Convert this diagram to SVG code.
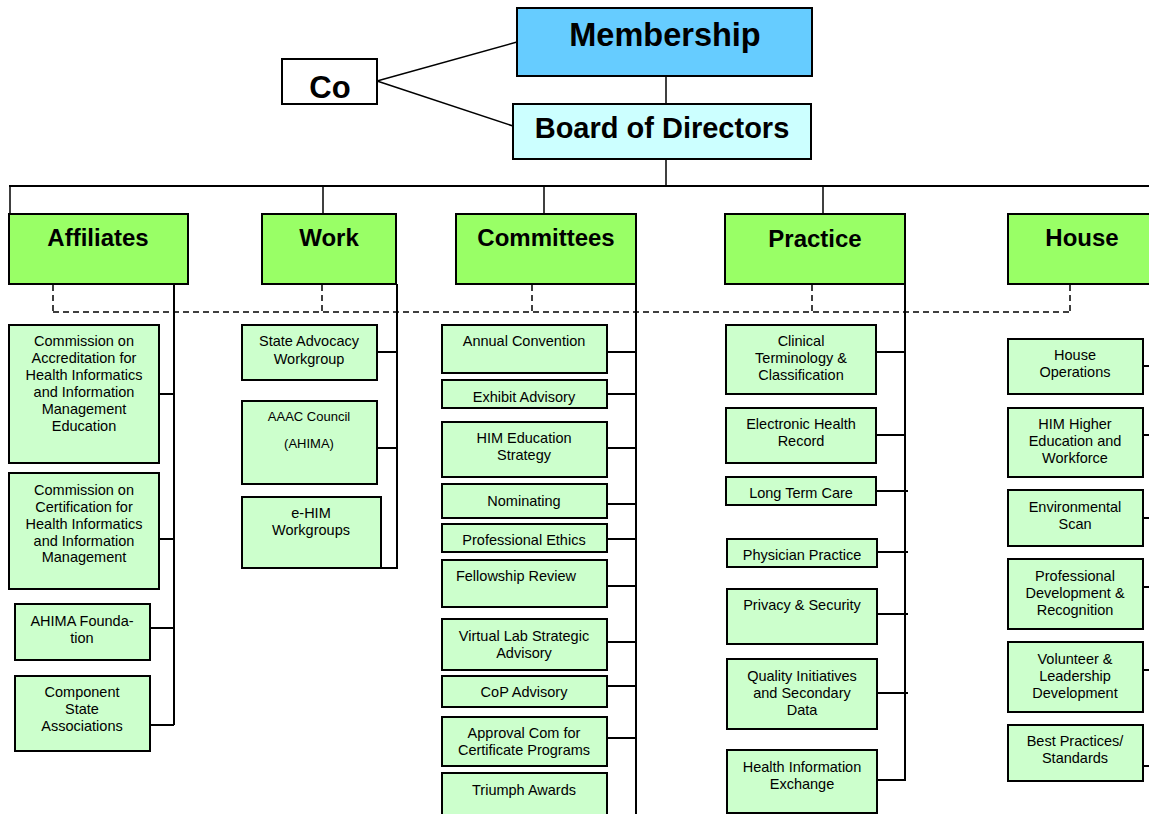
<svg xmlns="http://www.w3.org/2000/svg" width="1149" height="814" viewBox="0 0 1149 814">
<style>
text{font-family:"Liberation Sans",Arial,sans-serif;fill:#000;text-anchor:middle}
.t{font-size:14.5px}
.h{font-size:24px;font-weight:bold}
.b{stroke:#000;stroke-width:2}
.l2{fill:#99ff66}
.c{fill:#ccffcc}
.ln{stroke:#000;stroke-width:2;fill:none}
.thin{stroke:#000;stroke-width:1.5;fill:none}
.d{stroke:#000;stroke-width:1.5;fill:none;stroke-dasharray:6 4}
</style>
<rect width="1149" height="814" fill="#fff"/>
<g id="connectors">
<line class="thin" x1="377" y1="81" x2="517" y2="42"/>
<line class="thin" x1="377" y1="81" x2="513" y2="126"/>
<line class="thin" x1="666" y1="76" x2="666" y2="104"/>
<line class="thin" x1="666" y1="159" x2="666" y2="186"/>
<line class="ln" x1="9" y1="186" x2="1149" y2="186"/>
<line class="thin" x1="10" y1="186" x2="10" y2="214"/>
<line class="thin" x1="323" y1="186" x2="323" y2="214"/>
<line class="thin" x1="544" y1="186" x2="544" y2="214"/>
<line class="thin" x1="823" y1="186" x2="823" y2="214"/>
<path class="d" d="M53 285V312M322 285V312M532 285V312M812 285V312M1070 285V312M53 312H1070"/>
<path class="ln" d="M174 284V725M159 394H174M159 539H174M150 628H174M150 725H174"/>
<path class="ln" d="M397 284V568H381M377 352H397M377 448H397"/>
<path class="ln" d="M636 284V814M607 352H636M607 394H636M607 448H636M607 504H636M607 539H636M607 586H636M607 642H636M607 686H636M607 738H636"/>
<path class="ln" d="M905 284V780H877M876 352H905M876 435H905M876 491H908M877 552H908M877 614H908M877 693H908"/>
<path class="ln" d="M1143 366H1149M1143 435H1149M1143 518H1149M1143 587H1149M1143 670H1149M1143 766H1149"/>
</g>
<g id="membership"><rect class="b" x="517" y="8" width="295" height="68" fill="#66ccff"/><text x="665" y="46" style="font-size:32.5px;font-weight:bold">Membership</text></g>
<g id="co"><rect class="b" x="282" y="59" width="95" height="45" fill="#fff"/><text x="330" y="98" style="font-size:31px;font-weight:bold">Co</text></g>
<g id="board"><rect class="b" x="513" y="104" width="298" height="55" fill="#ccffff"/><text x="662" y="138" style="font-size:29px;font-weight:bold">Board of Directors</text></g>
<g id="affiliates"><rect class="b l2" x="9" y="214" width="179" height="70"/><text class="h" x="98" y="246">Affiliates</text></g>
<g id="work"><rect class="b l2" x="262" y="214" width="134" height="70"/><text class="h" x="329" y="246">Work</text></g>
<g id="committees"><rect class="b l2" x="456" y="214" width="180" height="70"/><text class="h" x="546" y="246">Committees</text></g>
<g id="practice"><rect class="b l2" x="725" y="214" width="180" height="70"/><text class="h" x="815" y="247">Practice</text></g>
<g id="house"><rect class="b l2" x="1008" y="214" width="150" height="70"/><text class="h" x="1082" y="246">House</text></g>

<g id="caahiime"><rect class="b c" x="9" y="325" width="150" height="138"/><text class="t" x="84"><tspan x="84" y="346">Commission on</tspan><tspan x="84" y="363">Accreditation for</tspan><tspan x="84" y="380">Health Informatics</tspan><tspan x="84" y="397">and Information</tspan><tspan x="84" y="414">Management</tspan><tspan x="84" y="431">Education</tspan></text></g>
<g id="cchiim"><rect class="b c" x="9" y="473" width="150" height="116"/><text class="t" x="84"><tspan x="84" y="495">Commission on</tspan><tspan x="84" y="512">Certification for</tspan><tspan x="84" y="529">Health Informatics</tspan><tspan x="84" y="546">and Information</tspan><tspan x="84" y="562">Management</tspan></text></g>
<g id="foundation"><rect class="b c" x="15" y="604" width="135" height="56"/><text class="t"><tspan x="82" y="626">AHIMA Founda-</tspan><tspan x="82" y="643">tion</tspan></text></g>
<g id="csa"><rect class="b c" x="15" y="676" width="135" height="75"/><text class="t"><tspan x="82" y="697">Component</tspan><tspan x="82" y="714">State</tspan><tspan x="82" y="731">Associations</tspan></text></g>

<g id="state-advocacy"><rect class="b c" x="242" y="325" width="135" height="55"/><text class="t"><tspan x="309" y="346">State Advocacy</tspan><tspan x="309" y="364">Workgroup</tspan></text></g>
<g id="aaac"><rect class="b c" x="242" y="401" width="135" height="83"/><text style="font-size:13px"><tspan x="309" y="421">AAAC Council</tspan><tspan x="309" y="448">(AHIMA)</tspan></text></g>
<g id="ehim"><rect class="b c" x="242" y="497" width="139" height="71"/><text class="t"><tspan x="311" y="518">e-HIM</tspan><tspan x="311" y="535">Workgroups</tspan></text></g>

<g id="annual"><rect class="b c" x="442" y="325" width="165" height="48"/><text class="t" x="524" y="346">Annual Convention</text></g>
<g id="exhibit"><rect class="b c" x="442" y="380" width="165" height="28"/><text class="t" x="524" y="402">Exhibit Advisory</text></g>
<g id="him-ed"><rect class="b c" x="442" y="422" width="165" height="55"/><text class="t"><tspan x="524" y="443">HIM Education</tspan><tspan x="524" y="460">Strategy</tspan></text></g>
<g id="nominating"><rect class="b c" x="442" y="484" width="165" height="34"/><text class="t" x="524" y="506">Nominating</text></g>
<g id="ethics"><rect class="b c" x="442" y="524" width="165" height="28"/><text class="t" x="524" y="545">Professional Ethics</text></g>
<g id="fellowship"><rect class="b c" x="442" y="560" width="165" height="47"/><text class="t" x="516" y="581">Fellowship Review</text></g>
<g id="virtual-lab"><rect class="b c" x="442" y="619" width="165" height="51"/><text class="t"><tspan x="524" y="641">Virtual Lab Strategic</tspan><tspan x="524" y="658">Advisory</tspan></text></g>
<g id="cop"><rect class="b c" x="442" y="676" width="165" height="31"/><text class="t" x="524" y="697">CoP Advisory</text></g>
<g id="approval"><rect class="b c" x="442" y="717" width="165" height="49"/><text class="t"><tspan x="524" y="738">Approval Com for</tspan><tspan x="524" y="755">Certificate Programs</tspan></text></g>
<g id="triumph"><rect class="b c" x="442" y="773" width="165" height="50"/><text class="t" x="524" y="795">Triumph Awards</text></g>

<g id="clinical"><rect class="b c" x="726" y="325" width="150" height="69"/><text class="t"><tspan x="801" y="346">Clinical</tspan><tspan x="801" y="363">Terminology &amp;</tspan><tspan x="801" y="380">Classification</tspan></text></g>
<g id="ehr"><rect class="b c" x="726" y="408" width="150" height="55"/><text class="t"><tspan x="801" y="429">Electronic Health</tspan><tspan x="801" y="446">Record</tspan></text></g>
<g id="ltc"><rect class="b c" x="726" y="477" width="150" height="28"/><text class="t" x="801" y="498">Long Term Care</text></g>
<g id="physician"><rect class="b c" x="727" y="539" width="150" height="28"/><text class="t" x="802" y="560">Physician Practice</text></g>
<g id="privacy"><rect class="b c" x="727" y="589" width="150" height="55"/><text class="t" x="802" y="610">Privacy &amp; Security</text></g>
<g id="quality"><rect class="b c" x="727" y="659" width="150" height="70"/><text class="t"><tspan x="802" y="681">Quality Initiatives</tspan><tspan x="802" y="698">and Secondary</tspan><tspan x="802" y="715">Data</tspan></text></g>
<g id="hie"><rect class="b c" x="727" y="750" width="150" height="63"/><text class="t"><tspan x="802" y="772">Health Information</tspan><tspan x="802" y="789">Exchange</tspan></text></g>

<g id="house-ops"><rect class="b c" x="1008" y="339" width="135" height="55"/><text class="t"><tspan x="1075" y="360">House</tspan><tspan x="1075" y="377">Operations</tspan></text></g>
<g id="him-higher"><rect class="b c" x="1008" y="408" width="135" height="69"/><text class="t"><tspan x="1075" y="429">HIM Higher</tspan><tspan x="1075" y="446">Education and</tspan><tspan x="1075" y="463">Workforce</tspan></text></g>
<g id="env-scan"><rect class="b c" x="1008" y="490" width="135" height="56"/><text class="t"><tspan x="1075" y="512">Environmental</tspan><tspan x="1075" y="529">Scan</tspan></text></g>
<g id="prof-dev"><rect class="b c" x="1008" y="559" width="135" height="70"/><text class="t"><tspan x="1075" y="581">Professional</tspan><tspan x="1075" y="598">Development &amp;</tspan><tspan x="1075" y="615">Recognition</tspan></text></g>
<g id="volunteer"><rect class="b c" x="1008" y="642" width="135" height="70"/><text class="t"><tspan x="1075" y="664">Volunteer &amp;</tspan><tspan x="1075" y="681">Leadership</tspan><tspan x="1075" y="698">Development</tspan></text></g>
<g id="best-practices"><rect class="b c" x="1008" y="725" width="135" height="56"/><text class="t"><tspan x="1075" y="746">Best Practices/</tspan><tspan x="1075" y="763">Standards</tspan></text></g>
</svg>
